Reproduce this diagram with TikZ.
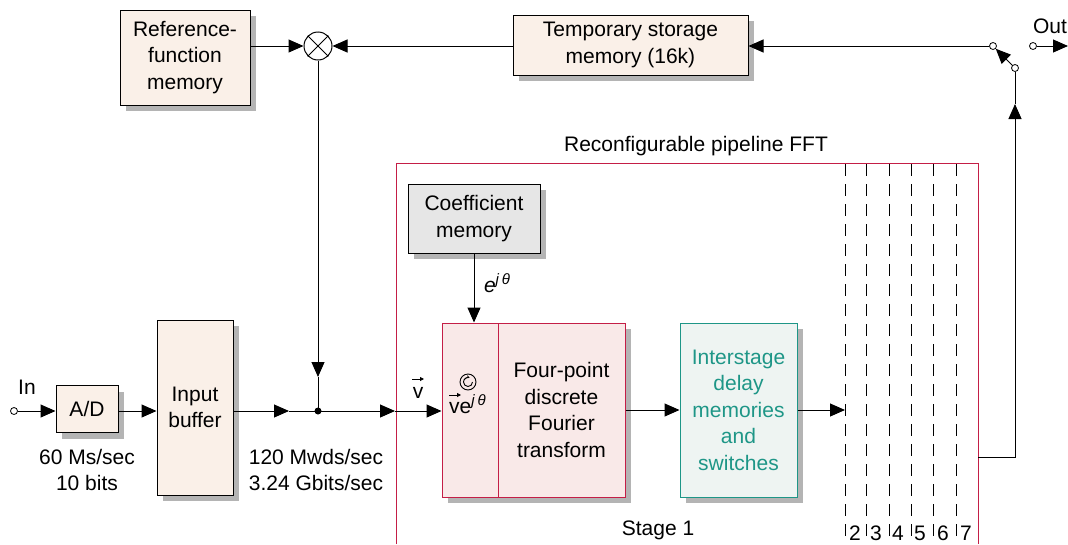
\documentclass[tikz,border=0pt]{standalone}
\usepackage{fontspec}
\setmainfont{Liberation Sans}
\usetikzlibrary{arrows.meta,shadows}
\definecolor{beige}{HTML}{FAF0E8}
\definecolor{crim}{RGB}{196,30,70}
\definecolor{pinkf}{HTML}{F9E9E8}
\definecolor{tealc}{RGB}{30,150,135}
\definecolor{tealf}{HTML}{EEF4F2}
\definecolor{coefg}{HTML}{E6E6E6}
\definecolor{shad}{HTML}{B4B4B4}
\newcommand\supjt{\raisebox{8pt}{\fontsize{15}{15}\selectfont\textit{j}\,\textit{θ}}}
\begin{document}
\begin{tikzpicture}[x=1pt,y=-1pt,
  font=\fontsize{21}{26.5}\selectfont,
  box/.style={draw, line width=1pt, align=center, inner sep=0pt,
    drop shadow={shadow xshift=6pt, shadow yshift=-6pt, fill=shad, opacity=1}},
  arr/.style={-{Triangle[length=15pt,width=13pt]}, line width=1pt},
  ln/.style={line width=1pt},
  term/.style={circle, draw, fill=white, minimum size=7pt, inner sep=0pt, line width=0.8pt},
  lbl/.style={align=center, inner sep=0pt},
  stagesep/.style={dash pattern=on 12pt off 8pt, line width=1pt}]
\useasboundingbox (0,0) rectangle (1068,544);

% pipeline frame
\coordinate (pbl) at (396,544);
\coordinate (ptl) at (396,163);
\coordinate (ptr) at (978,163);
\coordinate (pbr) at (978,544);
\draw[crim, line width=1pt] (pbl) -- (ptl) -- (ptr) -- (pbr);
\node[lbl] (plabel) at (696,146) {Reconfigurable pipeline FFT};
\node[lbl] (stage1) at (658,530) {Stage 1};

% stage separators
\foreach \x/\n in {845/s2,866/s3,889/s4,911/s5,933/s6,956/s7}{
  \coordinate (\n t) at (\x,164);
  \coordinate (\n b) at (\x,538);
  \draw[stagesep] (\n t) -- (\n b);
}
\foreach \x/\t in {855/2,876/3,898/4,920/5,943/6,966/7}{
  \node[lbl] (num\t) at (\x,533) {\t};
}

% boxes
\node[box, fill=beige, minimum width=130pt, minimum height=95pt] (ref) at (185,57.5) {Reference-\\function\\memory};
\node[circle, draw, fill=white, line width=1pt, minimum size=28pt, inner sep=0pt] (mult) at (318,46) {};
\draw[ln] (mult.45) -- (mult.225) (mult.135) -- (mult.315);
\node[box, fill=beige, minimum width=235pt, minimum height=60pt] (tmp) at (630.5,45) {Temporary storage\\memory (16k)};
\node[box, fill=coefg, minimum width=132pt, minimum height=69pt] (coef) at (474,218.5) {Coefficient\\memory};
\node[box, draw=crim, fill=pinkf, minimum width=56pt, minimum height=174pt] (rot) at (470,410) {};
\node[box, draw=crim, fill=pinkf, minimum width=127pt, minimum height=174pt] (dft) at (561.5,410) {Four-point\\discrete\\Fourier\\transform};
\node[box, draw=tealc, fill=tealf, text=tealc, minimum width=117pt, minimum height=174pt] (isd) at (738.5,410) {Interstage\\delay\\memories\\and\\switches};
\node[box, fill=beige, minimum width=76pt, minimum height=175pt] (buf) at (195,407.5) {Input\\buffer};
\node[box, fill=beige, minimum width=62pt, minimum height=47pt] (ad) at (87,409) {A/D};

% rotation block contents
\node[circle, draw, line width=0.9pt, minimum size=16pt, inner sep=0pt] (rotsym) at (468,382) {};
\draw[line width=0.9pt, -{Stealth[length=3pt,width=3.5pt]}] ([shift={(4.5,0)}]rotsym.center) arc[start angle=0, end angle=290, radius=4.5];
\node[lbl, anchor=base west] (vej) at (449,413) {ve\supjt};
\draw[line width=0.9pt, -{Triangle[length=4pt,width=4pt]}] ([shift={(0,-18)}]vej.base west) -- ++(12,0);

% input side
\node[term] (in) at (14,411) {};
\node[lbl] (inl) at (27,387) {In};
\draw[arr] (in) -- (ad.west|-in);
\draw[arr] (ad.east|-in) -- (buf.west|-in);
\node[lbl] (adl) at (87,470) {60 Ms/sec\\10 bits};
\node[lbl] (bufl) at (316,470) {120 Mwds/sec\\3.24 Gbits/sec};

\coordinate (dot) at (318,411);
\coordinate (m1) at (289,411);
\coordinate (pin) at (395,411);
\coordinate (m2) at (318,377);
\draw[arr] (buf.east|-dot) -- (m1);
\draw[ln] (m1) -- (dot);
\draw[arr] (dot) -- (pin);
\draw[arr] (pin) -- (rot.west|-pin);
\fill (dot) circle (3.5pt);
\draw[arr] (mult.south) -- (m2);
\draw[ln] (m2) -- (dot);

\node[lbl, anchor=base] (vl) at (418,398) {v};
\draw[line width=0.9pt, -{Triangle[length=4pt,width=4pt]}] ([shift={(-6,-19)}]vl.base) -- ++(12,0);

% top path
\draw[arr] (ref.east|-mult) -- (mult.west);
\draw[arr] (tmp.west|-mult) -- (mult.east);
\node[term] (sw1) at (993,46) {};
\node[term] (sw2) at (1015,68) {};
\node[term] (outc) at (1033,46) {};
\node[lbl] (outl) at (1050,26) {Out};
\coordinate (outend) at (1068,46);
\draw[arr] (sw1) -- (tmp.east|-sw1);
\draw[arr] (sw2) -- (sw1);
\draw[arr] (outc) -- (outend);

% feedback up
\coordinate (pr) at (978,457);
\coordinate (up) at (1015,104);
\draw[arr] (pr) -| (up);
\draw[ln] (up) -- (sw2);

% coefficient
\draw[arr] (coef.south) -- (coef.south|-rot.north);
\node[lbl] (ejt) at (497,283) {\textit{e}\supjt};

% stage flow
\draw[arr] (dft.east) -- (isd.west);
\draw[arr] (isd.east) -- (s2t|-isd.east);
\end{tikzpicture}
\end{document}
